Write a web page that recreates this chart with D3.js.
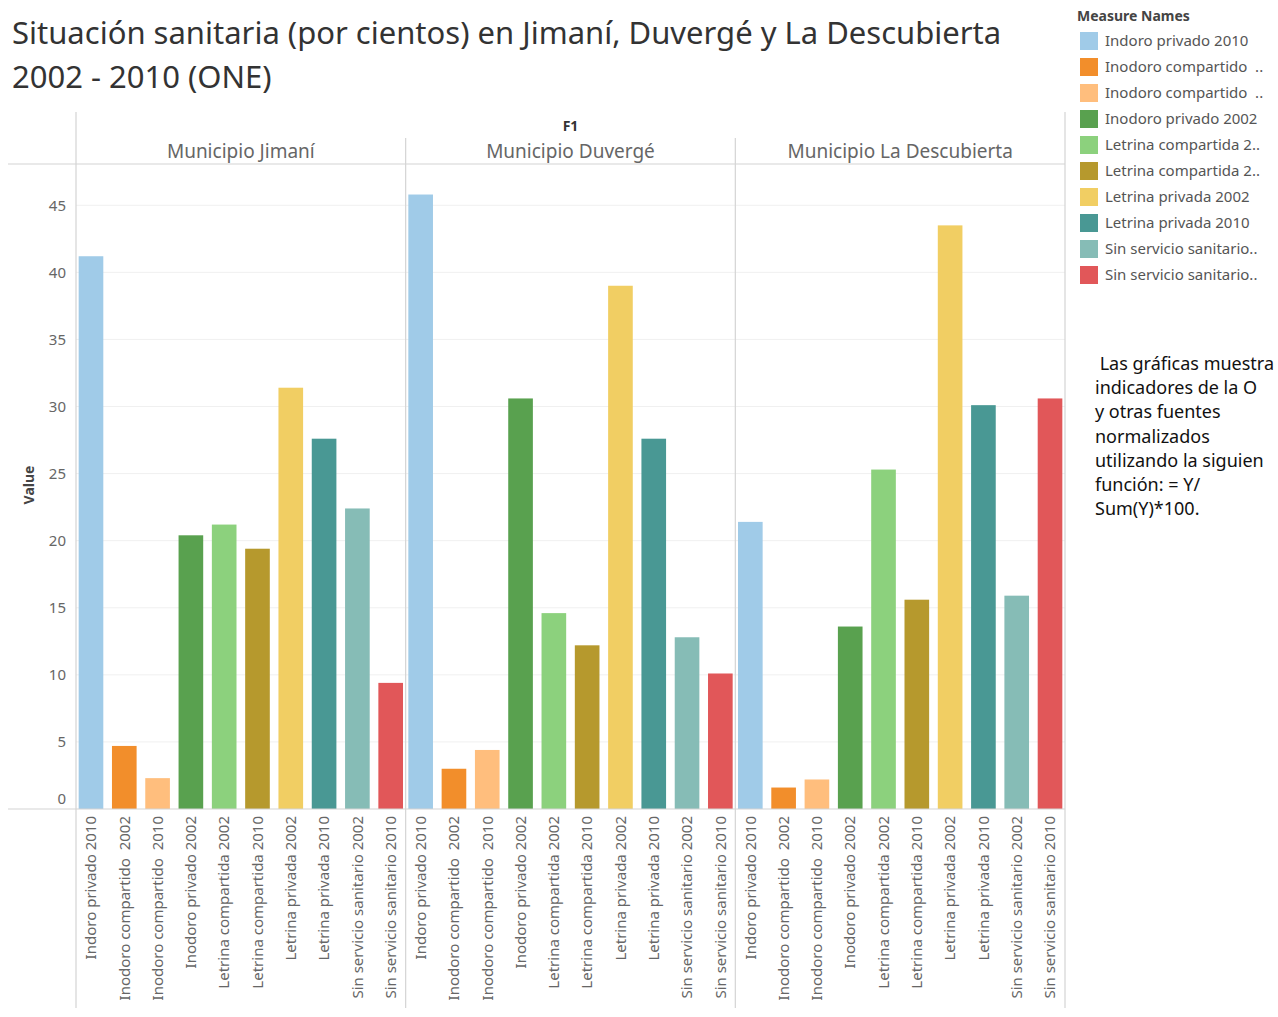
<!DOCTYPE html>
<html><head><meta charset="utf-8">
<script src="https://cdn.jsdelivr.net/npm/d3@7"></script>
<style>
body{margin:0;background:#fff;}
svg{display:block;font-family:"Noto Sans",Lato,sans-serif;}
</style></head>
<body><svg id="c" width="1278" height="1017"></svg>
<script>
const municipios = ["Municipio Jimaní", "Municipio Duvergé", "Municipio La Descubierta"];
const categories = ["Indoro privado 2010", "Inodoro compartido  2002", "Inodoro compartido  2010", "Inodoro privado 2002", "Letrina compartida 2002", "Letrina compartida 2010", "Letrina privada 2002", "Letrina privada 2010", "Sin servicio sanitario 2002", "Sin servicio sanitario 2010"];
const legendLabels = ["Indoro privado 2010", "Inodoro compartido  ..", "Inodoro compartido  ..", "Inodoro privado 2002", "Letrina compartida 2..", "Letrina compartida 2..", "Letrina privada 2002", "Letrina privada 2010", "Sin servicio sanitario..", "Sin servicio sanitario.."];
const colors = ["#A0CBE8", "#F28E2B", "#FFBE7D", "#59A14F", "#8CD17D", "#B6992D", "#F1CE63", "#499894", "#86BCB6", "#E15759"];
const valuesJimani = [41.2, 4.7, 2.3, 20.4, 21.2, 19.4, 31.4, 27.6, 22.4, 9.4];
const valuesDuverge = [45.8, 3.0, 4.4, 30.6, 14.6, 12.2, 39.0, 27.6, 12.8, 10.1];
const valuesDescubierta = [21.4, 1.6, 2.2, 13.6, 25.3, 15.6, 43.5, 30.1, 15.9, 30.6];
const yTicks = [0, 5, 10, 15, 20, 25, 30, 35, 40, 45];
const titleLines = ["Situación sanitaria (por cientos) en Jimaní, Duvergé y La Descubierta", "2002 - 2010 (ONE)"];
const noteLines = [" Las gráficas muestra", "indicadores de la O", "y otras fuentes", "normalizados", "utilizando la siguien", "función: = Y/", "Sum(Y)*100."];

const seriesValues = [valuesJimani, valuesDuverge, valuesDescubierta];
const svg = d3.select("#c");
const lineCol = "#d4d4d4";

// Title
svg.append("g").selectAll("text").data(titleLines).join("text")
  .attr("x", 12).attr("y", (d, i) => 44 + i * 44)
  .attr("font-size", 31).attr("fill", "#333").text(d => d);

const left = 76, right = 1065;
const panelX = d3.scaleBand().domain(municipios).range([left, right]);
const y = d3.scaleLinear().domain([0, 48]).range([809, 165]);
const x = d3.scaleBand().domain(categories).range([0, panelX.bandwidth()]).paddingInner(0.26).paddingOuter(0.08);
const color = d3.scaleOrdinal().domain(categories).range(colors);

// gridlines
svg.append("g").selectAll("line").data(yTicks.filter(t => t > 0)).join("line")
  .attr("x1", left).attr("x2", right).attr("y1", d => y(d)).attr("y2", d => y(d))
  .attr("stroke", "#f0f0f0").attr("stroke-width", 1);

// y axis ticks labels
const yAxis = d3.axisLeft(y).tickValues(yTicks).tickSize(0).tickPadding(10);
const ya = svg.append("g").attr("transform", `translate(${left},0)`).call(yAxis);
ya.select(".domain").remove();
ya.selectAll("text").attr("font-size", 15).attr("fill", "#666")
  .attr("font-family", '"Noto Sans",sans-serif')
  .attr("dy", d => d === 0 ? "-0.4em" : "0.32em");

svg.append("text").attr("transform", "translate(34,485) rotate(-90)")
  .attr("text-anchor", "middle").attr("font-size", 14).attr("font-weight", "bold")
  .attr("fill", "#444").text("Value");

// F1 header
svg.append("text").attr("x", (left + right) / 2).attr("y", 131).attr("text-anchor", "middle")
  .attr("font-size", 14).attr("font-weight", "bold").attr("fill", "#333").text("F1");

// panels
municipios.forEach((m, pi) => {
  const g = svg.append("g").attr("transform", `translate(${panelX(m)},0)`);
  g.append("text").attr("x", panelX.bandwidth() / 2).attr("y", 158).attr("text-anchor", "middle")
    .attr("font-size", 19).attr("fill", "#666").text(m);
  g.selectAll("rect").data(categories.map((c, i) => ({c, v: seriesValues[pi][i]}))).join("rect")
    .attr("x", d => x(d.c)).attr("width", x.bandwidth())
    .attr("y", d => y(d.v)).attr("height", d => y(0) - y(d.v))
    .attr("fill", d => color(d.c));
  const xa = g.append("g").attr("transform", "translate(0,809)")
    .call(d3.axisBottom(x).tickSize(0).tickPadding(0));
  xa.select(".domain").remove();
  xa.selectAll("text").attr("transform", "rotate(-90)")
    .attr("text-anchor", "end").attr("x", -7).attr("y", 0).attr("dy", "0.35em")
    .attr("font-size", 15).attr("fill", "#666").attr("font-family", '"Noto Sans",sans-serif')
    .style("white-space", "pre");
});

// structural lines
const lines = [
  [8, 164, right, 164], [8, 809, right, 809],
  [left, 112, left, 1008], [right, 112, right, 1008]
];
municipios.slice(1).forEach(m => lines.push([panelX(m), 138, panelX(m), 1008]));
svg.append("g").selectAll("line").data(lines).join("line")
  .attr("x1", d => d[0]).attr("y1", d => d[1]).attr("x2", d => d[2]).attr("y2", d => d[3])
  .attr("stroke", lineCol).attr("stroke-width", 1.2);

// legend
svg.append("text").attr("x", 1077).attr("y", 21).attr("font-size", 14).attr("font-weight", "bold")
  .attr("fill", "#444").text("Measure Names");
const lg = svg.append("g").selectAll("g").data(categories).join("g")
  .attr("transform", (d, i) => `translate(1080,${32 + i * 26})`);
lg.append("rect").attr("width", 18).attr("height", 18).attr("fill", d => color(d));
lg.append("text").attr("x", 25).attr("y", 9).attr("dy", "0.36em").attr("font-size", 15)
  .attr("fill", "#555").style("white-space", "pre").text((d, i) => legendLabels[i]);

// note
svg.append("g").selectAll("text").data(noteLines).join("text")
  .attr("x", 1095).attr("y", (d, i) => 370 + i * 24.2)
  .attr("font-size", 18).attr("fill", "#111").style("white-space", "pre")
  .attr("font-family", '"Noto Sans",sans-serif')
  .text(d => d);
</script></body></html>
